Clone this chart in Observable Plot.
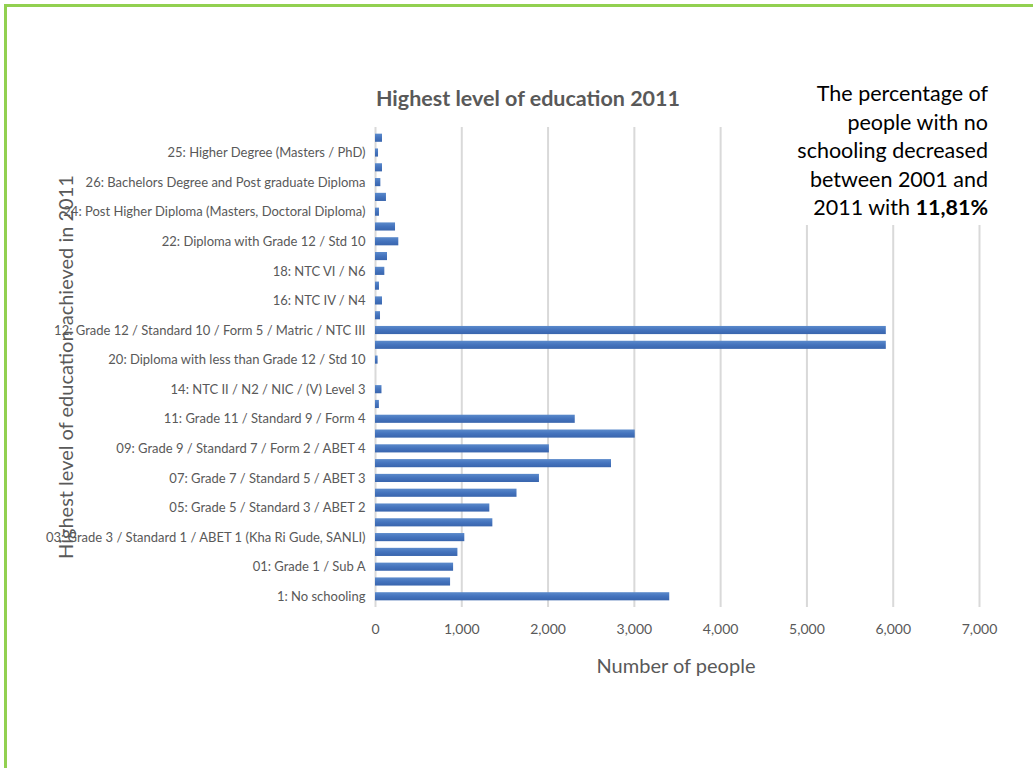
<!DOCTYPE html>
<html>
<head>
<meta charset="utf-8">
<script src="https://cdn.jsdelivr.net/npm/d3@7"></script>
<script src="https://cdn.jsdelivr.net/npm/@observablehq/plot@0.6"></script>
<style>
  body { margin: 0; background: #fff; font-family: Lato, "Open Sans", sans-serif; }
  #wrap { position: relative; width: 1033px; height: 768px; overflow: hidden; background: #fff; }
  #border { position: absolute; left: 4px; top: 4px; right: -20px; bottom: -20px;
            border-left: 3px solid #92d050; border-top: 3px solid #92d050; }
  #chart { position: absolute; left: 0; top: 0; }
  #title { position: absolute; left: 278px; width: 500px; top: 86px; line-height: 24px;
           text-align: center; font-size: 21.5px; font-weight: bold; color: #595959; }
  #note { position: absolute; left: 770px; width: 218px; top: 79px; height: 146px;
          background: #fff; text-align: right; font-size: 21.5px; line-height: 28.5px; color: #000; }
  #xtitle { position: absolute; left: 476px; width: 400px; top: 653px; line-height: 24px;
            text-align: center; font-size: 20px; color: #595959; }
  #ytitle { position: absolute; left: -175px; width: 480px; top: 355px; line-height: 24px;
            text-align: center; font-size: 20px; color: #595959; transform: rotate(-90deg); }
</style>
</head>
<body>
<div id="wrap">
  <div id="border"></div>
  <div id="chart"></div>
  <div id="title">Highest level of education 2011</div>
  <div id="note">The percentage of<br>people with no<br>schooling decreased<br>between 2001 and<br>2011 with <b>11,81%</b></div>
  <div id="xtitle">Number of people</div>
  <div id="ytitle">Highest level of education achieved in 2011</div>
</div>
<script>
// Categories listed bottom → top (as drawn)
const categories = [
  "1: No schooling",
  "00: Grade 0",
  "01: Grade 1 / Sub A",
  "02: Grade 2 / Sub B",
  "03: Grade 3 / Standard 1 / ABET 1 (Kha Ri Gude, SANLI)",
  "04: Grade 4 / Standard 2",
  "05: Grade 5 / Standard 3 / ABET 2",
  "06: Grade 6 / Standard 4",
  "07: Grade 7 / Standard 5 / ABET 3",
  "08: Grade 8 / Standard 6 / Form 1",
  "09: Grade 9 / Standard 7 / Form 2 / ABET 4",
  "10: Grade 10 / Standard 8 / Form 3",
  "11: Grade 11 / Standard 9 / Form 4",
  "13: NTC I / N1 / NIC / (V) Level 2",
  "14: NTC II / N2 / NIC / (V) Level 3",
  "19: Certificate with less than Grade 12 / Std 10",
  "20: Diploma with less than Grade 12 / Std 10",
  "12: Grade 12 / Matric",
  "12: Grade 12 / Standard 10 / Form 5 / Matric / NTC III",
  "15: NTC III / N3",
  "16: NTC IV / N4",
  "17: NTC V / N5",
  "18: NTC VI / N6",
  "21: Certificate with Grade 12 / Std 10",
  "22: Diploma with Grade 12 / Std 10",
  "23: Higher Diploma",
  "24: Post Higher Diploma (Masters, Doctoral Diploma)",
  "25: Bachelors Degree",
  "26: Bachelors Degree and Post graduate Diploma",
  "27: Honours degree",
  "25: Higher Degree (Masters / PhD)",
  "29: Other"
];
const people = [
  3410, 870, 905, 955, 1035, 1360, 1325, 1640, 1900, 2735, 2015, 3010, 2315,
  45, 75, 0, 30, 5920, 5920, 58, 81, 46, 108, 139, 270, 232, 46, 127, 62, 81, 35, 81
];
// Only every other category carries a visible label
const labeledCategories = categories.filter((d, i) => i % 2 === 0);
const xTicks = [0, 1000, 2000, 3000, 4000, 5000, 6000, 7000];

const data = categories.map((c, i) => ({category: c, value: people[i]}));

const chart = Plot.plot({
  width: 1033,
  height: 768,
  marginLeft: 375,
  marginRight: 54,
  marginTop: 127,
  marginBottom: 161,
  style: {fontFamily: "Lato, 'Open Sans', sans-serif", color: "#595959", background: "transparent", overflow: "visible"},
  x: {domain: [0, 7000], axis: null},
  y: {domain: categories, reverse: true, padding: 0.45, round: false, axis: null},
  marks: [
    Plot.gridX({ticks: xTicks, stroke: "#d9d9d9", strokeWidth: 2, strokeOpacity: 1}),
    Plot.barX(data, {x: "value", y: "category", fill: "url(#barGrad)"}),
    Plot.axisX({ticks: xTicks, tickSize: 0, tickPadding: 17, tickFormat: d3.format(","),
                fontSize: 14, fill: "#595959", label: null}),
    Plot.axisY({ticks: labeledCategories, tickSize: 0, tickPadding: 10,
                fontSize: 13, fill: "#595959", label: null})
  ]
});

d3.select(chart).insert("defs", ":first-child").html(
  '<linearGradient id="barGrad" x1="0" y1="0" x2="0" y2="1">' +
  '<stop offset="0" stop-color="#5b8acb"/>' +
  '<stop offset="0.5" stop-color="#4473bd"/>' +
  '<stop offset="1" stop-color="#3965ad"/>' +
  '</linearGradient>'
);

document.getElementById("chart").appendChild(chart);
</script>
</body>
</html>
